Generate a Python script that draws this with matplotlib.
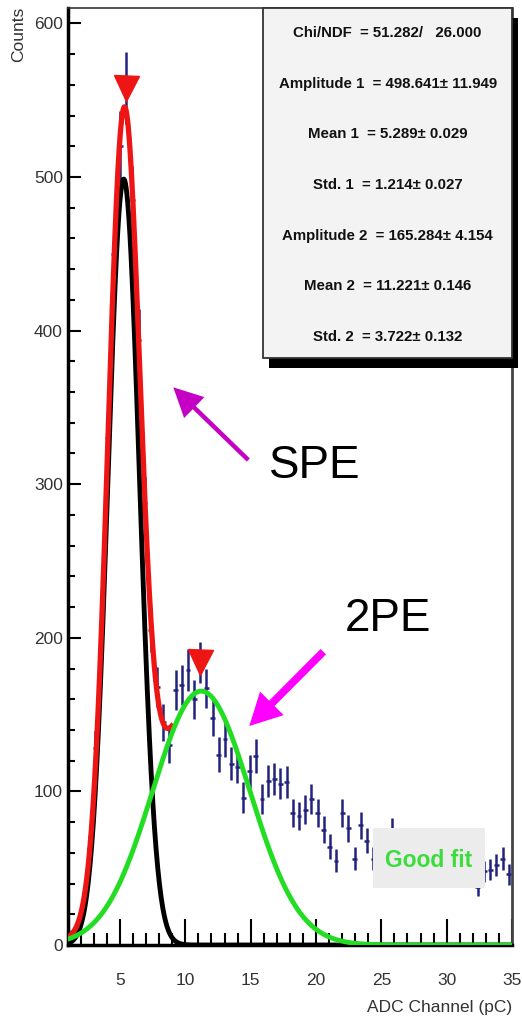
import matplotlib.pyplot as plt
import numpy as np
from matplotlib.patches import Rectangle
from matplotlib.ticker import MultipleLocator

plt.rcParams['font.family'] = ['Liberation Sans', 'DejaVu Sans']

# histogram: 72 bins of 0.472 pC starting at 1 pC
bin_lo = 1.0
bin_w = 0.472
counts = np.array([
    7, 12, 29, 63, 128, 205, 330, 450, 520, 558,
    485, 394, 288, 205, 168, 145, 130, 166, 169, 179,
    160, 184, 167, 148, 124, 134, 118, 116, 96, 113,
    123, 95, 107, 108, 105, 106, 86, 84, 88, 95,
    86, 75, 64, 55, 86, 76, 56, 78, 68, 56,
    60, 52, 74, 58, 63, 50, 55, 61, 48, 57,
    52, 47, 58, 50, 53, 46, 38, 48, 49, 52,
    56, 46,
], dtype=float)
centers = bin_lo + bin_w * (np.arange(len(counts)) + 0.5)

# double gaussian fit result
chi2, ndf = 51.282, 26.000
amp1, amp1_err = 498.641, 11.949
mean1, mean1_err = 5.289, 0.029
std1, std1_err = 1.214, 0.027
amp2, amp2_err = 165.284, 4.154
mean2, mean2_err = 11.221, 0.146
std2, std2_err = 3.722, 0.132

stats_lines = [
    f'Chi/NDF  = {chi2:.3f}/   {ndf:.3f}',
    f'Amplitude 1  = {amp1:.3f}\u00b1 {amp1_err:.3f}',
    f'Mean 1  = {mean1:.3f}\u00b1 {mean1_err:.3f}',
    f'Std. 1  = {std1:.3f}\u00b1 {std1_err:.3f}',
    f'Amplitude 2  = {amp2:.3f}\u00b1 {amp2_err:.3f}',
    f'Mean 2  = {mean2:.3f}\u00b1 {mean2_err:.3f}',
    f'Std. 2  = {std2:.3f}\u00b1 {std2_err:.3f}',
]


def gaus(x, a, m, s):
    return a * np.exp(-0.5 * ((x - m) / s) ** 2)


fig = plt.figure(figsize=(5.22, 10.21), dpi=100)
ax = fig.add_axes([67.7 / 522, 76 / 1021, 444.3 / 522, 937 / 1021])

ax.errorbar(centers, counts, yerr=np.sqrt(counts), xerr=bin_w * 0.4,
            fmt='none', ecolor='#23237f', elinewidth=1.8, capsize=0, zorder=2)

xs = np.linspace(1, 35, 800)
xr = np.linspace(1, 8.95, 400)
ax.plot(xs, gaus(xs, amp1, mean1, std1), color='black', lw=3.5, zorder=3)
ax.plot(xr, gaus(xr, amp1, mean1, std1) + gaus(xr, amp2, mean2, std2),
        color='#ee1515', lw=3.8, zorder=4)
ax.plot(xs, gaus(xs, amp2, mean2, std2), color='#22dd22', lw=3.5, zorder=5)

# peak markers on the two highest bins
spe_pk = np.argmax(counts)
valley = spe_pk + np.argmin(counts[spe_pk:spe_pk + 10])
pe2_pk = valley + np.argmax(counts[valley:])
for i in (spe_pk, pe2_pk):
    ax.plot(centers[i], counts[i], marker='v', ms=18, color='#ee1515',
            mec='#ee1515', zorder=6)

ax.set_xlim(1, 35)
ax.set_ylim(0, 610)
ax.xaxis.set_major_locator(MultipleLocator(5))
ax.xaxis.set_minor_locator(MultipleLocator(1))
ax.yaxis.set_major_locator(MultipleLocator(100))
ax.yaxis.set_minor_locator(MultipleLocator(20))
ax.tick_params(axis='x', which='major', direction='in', length=19, width=1.5,
               pad=20, labelsize=12.5, labelcolor='#333333')
ax.tick_params(axis='x', which='minor', direction='in', length=8.5, width=1.5)
ax.tick_params(axis='y', which='major', direction='in', length=9.5, width=1.5,
               pad=3.5, labelsize=12.5, labelcolor='#333333')
ax.tick_params(axis='y', which='minor', direction='in', length=5, width=1.5)
ax.set_xticks([5, 10, 15, 20, 25, 30, 35])
for side, lw, c in (('left', 2.5, 'black'), ('bottom', 2.5, 'black'),
                    ('right', 2.0, '#444444'), ('top', 1.2, '#333333')):
    ax.spines[side].set_linewidth(lw)
    ax.spines[side].set_color(c)

fig.text(19 / 522, 1014 / 1021, 'Counts', rotation=90, ha='center', va='top',
         fontsize=12.5, color='#333333')
fig.text(512 / 522, 9.3 / 1021, 'ADC Channel (pC)', ha='right', va='baseline',
         fontsize=12.5, color='#333333')

# stats box with drop shadow
bx0, by0 = 0.440, 0.626
ax.add_patch(Rectangle((bx0 + 0.0135, by0 - 0.0107), 1 - bx0, 1 - by0,
                       transform=ax.transAxes, facecolor='black',
                       edgecolor='none', clip_on=False, zorder=8))
ax.add_patch(Rectangle((bx0, by0), 1 - bx0, 1 - by0, transform=ax.transAxes,
                       facecolor='#f3f3f3', edgecolor='#333333', lw=1.3,
                       clip_on=False, zorder=9))
for k, line in enumerate(stats_lines):
    ax.text((bx0 + 1) / 2, 0.973 - 0.054 * k, line, transform=ax.transAxes,
            ha='center', va='center', fontsize=10.8, fontweight='bold',
            color='#111111', zorder=10)

# fit quality tag
ax.add_patch(Rectangle((0.6865, 0.0605), 0.2525, 0.064, transform=ax.transAxes,
                       facecolor='#ececec', edgecolor='none', zorder=7))
ax.text(0.8125, 0.0905, 'Good fit', transform=ax.transAxes, ha='center',
        va='center', fontsize=16.5, fontweight='bold', color='#3bdc3b', zorder=8)

# peak labels
fig.text(269.3 / 522, (1021 - 478.3) / 1021, 'SPE', fontsize=33,
         va='baseline', ha='left')
fig.text(344.3 / 522, (1021 - 630.7) / 1021, '2PE', fontsize=33,
         va='baseline', ha='left')
ax.annotate('', xy=(173.3 / 522, (1021 - 387.3) / 1021),
            xytext=(248.3 / 522, (1021 - 460) / 1021),
            xycoords='figure fraction', textcoords='figure fraction',
            arrowprops=dict(width=3.2, headwidth=21, headlength=21, shrink=0,
                            color='#c400c4', lw=0))
ax.annotate('', xy=(249.3 / 522, (1021 - 726) / 1021),
            xytext=(323.3 / 522, (1021 - 651.7) / 1021),
            xycoords='figure fraction', textcoords='figure fraction',
            arrowprops=dict(width=5.5, headwidth=24, headlength=23, shrink=0,
                            color='#ff00ff', lw=0))

fig.savefig('out.png', dpi=100)
